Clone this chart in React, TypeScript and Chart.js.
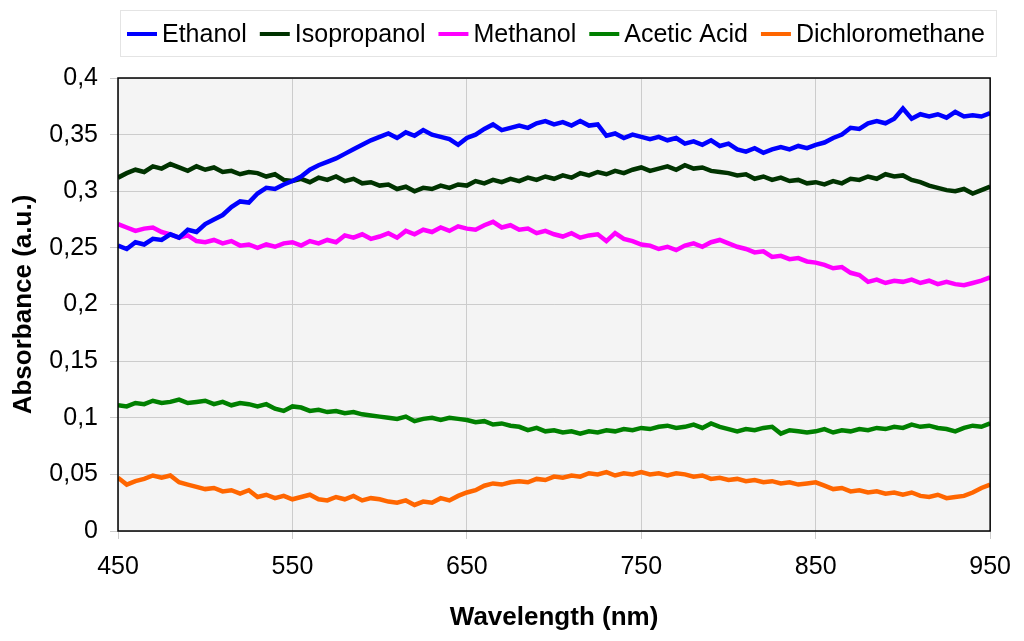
import React, { useRef, useEffect } from 'react';
import { Chart, registerables, ChartConfiguration, Plugin } from 'chart.js';

Chart.register(...registerables);

// wavelength grid (nm), 5 nm steps
const wavelengths = [
  450, 455, 460, 465, 470, 475, 480, 485, 490, 495,
  500, 505, 510, 515, 520, 525, 530, 535, 540, 545,
  550, 555, 560, 565, 570, 575, 580, 585, 590, 595,
  600, 605, 610, 615, 620, 625, 630, 635, 640, 645,
  650, 655, 660, 665, 670, 675, 680, 685, 690, 695,
  700, 705, 710, 715, 720, 725, 730, 735, 740, 745,
  750, 755, 760, 765, 770, 775, 780, 785, 790, 795,
  800, 805, 810, 815, 820, 825, 830, 835, 840, 845,
  850, 855, 860, 865, 870, 875, 880, 885, 890, 895,
  900, 905, 910, 915, 920, 925, 930, 935, 940, 945,
  950,
];

const ethanol = [
  0.252, 0.249, 0.255, 0.253, 0.258, 0.257, 0.262, 0.259, 0.266, 0.264,
  0.271, 0.275, 0.279, 0.286, 0.291, 0.29, 0.298, 0.303, 0.302, 0.306,
  0.309, 0.313, 0.319, 0.323, 0.326, 0.329, 0.333, 0.337, 0.341, 0.345,
  0.348, 0.351, 0.347, 0.352, 0.349, 0.354, 0.35, 0.348, 0.346, 0.341,
  0.347, 0.35, 0.355, 0.359, 0.354, 0.356, 0.358, 0.356, 0.36, 0.362,
  0.359, 0.361, 0.358, 0.362, 0.358, 0.359, 0.349, 0.351, 0.347, 0.35,
  0.348, 0.346, 0.348, 0.345, 0.347, 0.342, 0.344, 0.341, 0.345, 0.34,
  0.342, 0.337, 0.335, 0.338, 0.334, 0.337, 0.339, 0.337, 0.34, 0.338,
  0.341, 0.343, 0.347, 0.35, 0.356, 0.355, 0.36, 0.362, 0.36, 0.364,
  0.373, 0.364, 0.368, 0.366, 0.368, 0.365, 0.37, 0.366, 0.367, 0.366,
  0.369,
];

const isopropanol = [
  0.312, 0.316, 0.319, 0.317, 0.322, 0.32, 0.324, 0.321, 0.318, 0.322,
  0.319, 0.321, 0.317, 0.318, 0.315, 0.317, 0.316, 0.313, 0.315, 0.31,
  0.309, 0.311, 0.308, 0.312, 0.31, 0.313, 0.309, 0.311, 0.307, 0.308,
  0.305, 0.306, 0.302, 0.304, 0.3, 0.303, 0.302, 0.305, 0.303, 0.306,
  0.305, 0.309, 0.307, 0.31, 0.308, 0.311, 0.309, 0.312, 0.31, 0.313,
  0.311, 0.314, 0.312, 0.316, 0.314, 0.317, 0.315, 0.318, 0.316, 0.319,
  0.321, 0.318, 0.32, 0.322, 0.319, 0.323, 0.32, 0.321, 0.318, 0.317,
  0.316, 0.314, 0.315, 0.311, 0.313, 0.31, 0.312, 0.309, 0.31, 0.307,
  0.308, 0.306, 0.309, 0.307, 0.311, 0.31, 0.313, 0.311, 0.315, 0.313,
  0.314, 0.31, 0.308, 0.305, 0.303, 0.301, 0.3, 0.302, 0.298, 0.301,
  0.304,
];

const methanol = [
  0.271, 0.268, 0.265, 0.267, 0.268, 0.264, 0.262, 0.259, 0.261, 0.256,
  0.255, 0.257, 0.254, 0.256, 0.252, 0.253, 0.25, 0.253, 0.251, 0.254,
  0.255, 0.252, 0.256, 0.254, 0.257, 0.255, 0.261, 0.259, 0.262, 0.258,
  0.26, 0.263, 0.259, 0.265, 0.262, 0.266, 0.264, 0.268, 0.265, 0.269,
  0.267, 0.266, 0.27, 0.273, 0.268, 0.27, 0.266, 0.267, 0.263, 0.265,
  0.262, 0.26, 0.263, 0.259, 0.261, 0.262, 0.256, 0.263, 0.258, 0.256,
  0.253, 0.252, 0.249, 0.251, 0.248, 0.252, 0.254, 0.251, 0.255, 0.257,
  0.254, 0.251, 0.249, 0.246, 0.247, 0.242, 0.243, 0.24, 0.241, 0.238,
  0.237, 0.235, 0.232, 0.233, 0.228, 0.226, 0.22, 0.222, 0.219, 0.221,
  0.22, 0.222, 0.219, 0.221, 0.218, 0.22, 0.218, 0.217, 0.219, 0.221,
  0.224,
];

const aceticAcid = [
  0.111, 0.11, 0.113, 0.112, 0.115, 0.113, 0.114, 0.116, 0.113, 0.114,
  0.115, 0.112, 0.114, 0.111, 0.113, 0.112, 0.11, 0.112, 0.108, 0.106,
  0.11, 0.109, 0.106, 0.107, 0.105, 0.106, 0.104, 0.105, 0.103, 0.102,
  0.101, 0.1, 0.099, 0.101, 0.097, 0.099, 0.1, 0.098, 0.1, 0.099,
  0.098, 0.096, 0.097, 0.094, 0.095, 0.093, 0.092, 0.089, 0.091, 0.088,
  0.089, 0.087, 0.088, 0.086, 0.088, 0.087, 0.089, 0.088, 0.09, 0.089,
  0.091, 0.09, 0.092, 0.093, 0.091, 0.092, 0.094, 0.091, 0.095, 0.092,
  0.09, 0.088, 0.09, 0.089, 0.091, 0.092, 0.086, 0.089, 0.088, 0.087,
  0.088, 0.09, 0.087, 0.089, 0.088, 0.09, 0.089, 0.091, 0.09, 0.092,
  0.091, 0.094, 0.092, 0.093, 0.091, 0.09, 0.088, 0.091, 0.093, 0.092,
  0.095,
];

const dichloromethane = [
  0.047, 0.041, 0.044, 0.046, 0.049, 0.047, 0.049, 0.043, 0.041, 0.039,
  0.037, 0.038, 0.035, 0.036, 0.033, 0.036, 0.03, 0.032, 0.029, 0.031,
  0.028, 0.03, 0.032, 0.028, 0.027, 0.03, 0.028, 0.031, 0.027, 0.029,
  0.028, 0.026, 0.025, 0.027, 0.023, 0.026, 0.025, 0.029, 0.027, 0.031,
  0.034, 0.036, 0.04, 0.042, 0.041, 0.043, 0.044, 0.043, 0.046, 0.045,
  0.048, 0.047, 0.049, 0.048, 0.051, 0.05, 0.052, 0.049, 0.051, 0.05,
  0.052, 0.05, 0.051, 0.049, 0.051, 0.05, 0.048, 0.049, 0.046, 0.047,
  0.045, 0.046, 0.044, 0.045, 0.043, 0.044, 0.042, 0.043, 0.041, 0.042,
  0.043, 0.04, 0.037, 0.038, 0.035, 0.036, 0.034, 0.035, 0.033, 0.034,
  0.032, 0.034, 0.031, 0.03, 0.032, 0.029, 0.03, 0.031, 0.034, 0.038,
  0.041,
];

const seriesNames = ['Ethanol', 'Isopropanol', 'Methanol', 'Acetic Acid', 'Dichloromethane'];
const seriesColors = ['#0000ff', '#003300', '#ff00ff', '#008000', '#ff6600'];
const seriesValues = [ethanol, isopropanol, methanol, aceticAcid, dichloromethane];

const FONT = '"Liberation Sans", Arial, sans-serif';

// plot background + frame
const frame: Plugin = {
  id: 'frame',
  beforeDraw(chart) {
    const { ctx, chartArea: a } = chart;
    ctx.save();
    ctx.fillStyle = '#f4f4f4';
    ctx.fillRect(a.left, a.top, a.right - a.left, a.bottom - a.top);
    ctx.restore();
  },
  afterDraw(chart) {
    const { ctx, chartArea: a } = chart;
    ctx.save();
    ctx.strokeStyle = '#000';
    ctx.lineWidth = 1.5;
    ctx.strokeRect(a.left, a.top, a.right - a.left, a.bottom - a.top);
    ctx.restore();
  },
};

// boxed legend on one row
const boxLegend: Plugin = {
  id: 'boxLegend',
  afterDraw(chart) {
    const { ctx } = chart;
    ctx.save();
    ctx.strokeStyle = '#e4e4e4';
    ctx.lineWidth = 1;
    ctx.strokeRect(120.5, 10.5, 876, 46);
    ctx.font = `25px ${FONT}`;
    ctx.textBaseline = 'middle';
    ctx.fillStyle = '#000';
    let x = 127;
    const y = 34;
    chart.data.datasets.forEach((ds) => {
      ctx.strokeStyle = ds.borderColor as string;
      ctx.lineWidth = 4;
      ctx.beginPath();
      ctx.moveTo(x, y);
      ctx.lineTo(x + 30, y);
      ctx.stroke();
      const label = ds.label || '';
      ctx.fillText(label, x + 35, y + 1);
      x += 35 + ctx.measureText(label).width + 13;
    });
    ctx.restore();
  },
};

const App: React.FC = () => {
  const chartRef = useRef<HTMLCanvasElement>(null);
  const chartInstance = useRef<Chart | null>(null);

  useEffect(() => {
    if (!chartRef.current) return;
    if (chartInstance.current) {
      chartInstance.current.destroy();
    }
    const ctx = chartRef.current.getContext('2d');
    if (!ctx) return;

    const config: ChartConfiguration<'line'> = {
      type: 'line',
      data: {
        datasets: seriesValues.map((vals, i) => ({
          label: seriesNames[i],
          data: wavelengths.map((w, j) => ({ x: w, y: vals[j] })),
          borderColor: seriesColors[i],
          backgroundColor: seriesColors[i],
          borderWidth: 4.5,
          pointRadius: 0,
          tension: 0,
        })),
      },
      options: {
        animation: false,
        responsive: true,
        maintainAspectRatio: false,
        layout: { padding: { top: 78, right: 32, left: 0, bottom: 0 } },
        plugins: {
          legend: { display: false },
          tooltip: { enabled: false },
        },
        scales: {
          x: {
            type: 'linear',
            min: 450,
            max: 950,
            afterFit: (scale) => {
              scale.height = 110;
            },
            ticks: {
              stepSize: 100,
              color: '#000',
              padding: 13,
              maxRotation: 0,
              font: { family: FONT, size: 25 },
            },
            grid: { color: '#cccccc', lineWidth: 1, tickLength: 8 },
            border: { display: false },
            title: {
              display: true,
              text: 'Wavelength (nm)',
              color: '#000',
              padding: { top: 0, bottom: 8 },
              font: { family: FONT, size: 26, weight: 'bold' },
            },
          },
          y: {
            min: 0,
            max: 0.4,
            afterFit: (scale) => {
              scale.width = 118;
            },
            ticks: {
              stepSize: 0.05,
              color: '#000',
              padding: 12,
              font: { family: FONT, size: 25 },
              callback: (value) => String(parseFloat(Number(value).toFixed(2))).replace('.', ','),
            },
            grid: { color: '#cccccc', lineWidth: 1, tickLength: 8 },
            border: { display: false },
            title: {
              display: true,
              text: 'Absorbance (a.u.)',
              color: '#000',
              padding: { top: 8, bottom: 0 },
              font: { family: FONT, size: 26, weight: 'bold' },
            },
          },
        },
      },
      plugins: [frame, boxLegend],
    };

    chartInstance.current = new Chart(ctx, config);

    return () => {
      if (chartInstance.current) {
        chartInstance.current.destroy();
        chartInstance.current = null;
      }
    };
  }, []);

  return (
    <div style={{ position: 'fixed', left: 0, top: 0, width: '1024px', height: '641px', background: '#fff' }}>
      <canvas ref={chartRef} />
    </div>
  );
};

export default App;
